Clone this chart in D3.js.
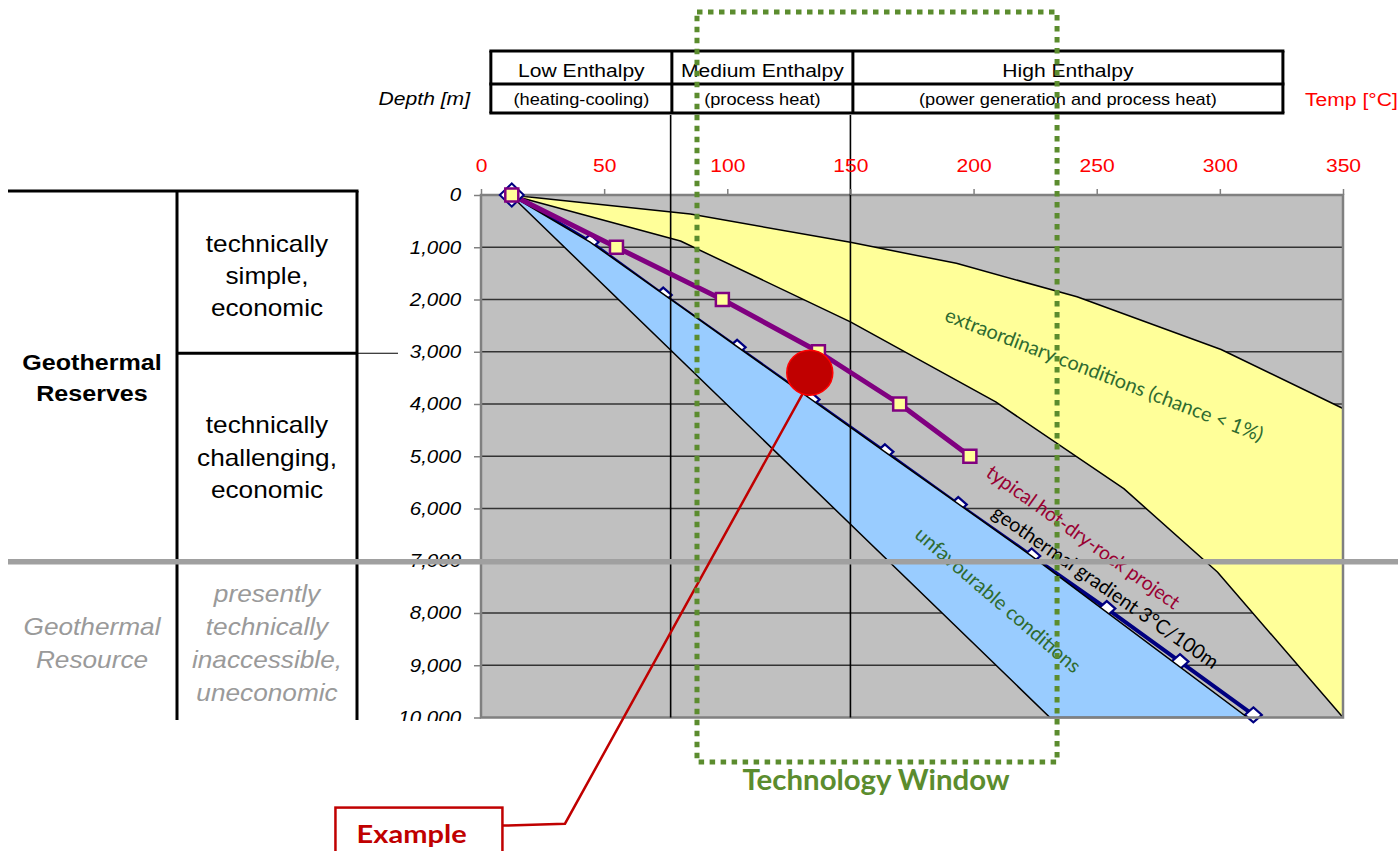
<!DOCTYPE html>
<html><head><meta charset="utf-8">
<script src="https://cdn.jsdelivr.net/npm/d3@7"></script>
<style>body{margin:0;background:#fff;} svg{display:block;}</style>
</head><body>
<svg id="chart" width="1400" height="851"></svg>
<script>
// ---------------- data ----------------
const tempTicks  = [0, 50, 100, 150, 200, 250, 300, 350];
const depthTicks = [0, 1000, 2000, 3000, 4000, 5000, 6000, 7000, 8000, 9000, 10000];

// geothermal gradient 3°C/100m (navy line with diamond markers)
const gradientTemp  = [12.5, 44.3, 74, 104, 134, 164, 193.8, 223.6, 254.1, 283.8, 313.6];
const gradientDepth = [0, 900, 1915, 2915, 3915, 4915, 5925, 6910, 7915, 8930, 9950];

// typical hot-dry-rock project (purple line, yellow squares)
const hdrTemp  = [12.5, 55, 98, 137, 170, 198.5];
const hdrDepth = [0, 1000, 2000, 3000, 4000, 5000];

// extraordinary conditions band (yellow)
const extraUpperTemp  = [12, 85, 150, 193, 242, 300.5, 350];
const extraUpperDepth = [0, 365, 906, 1308, 1948, 2956, 4086];
const extraLowerTemp  = [12, 81, 150, 209, 261, 299, 350];
const extraLowerDepth = [0, 880, 2427, 3960, 5620, 7216, 10000];

// unfavourable conditions band (blue)
const unfavUpperTemp  = [12, 44.3, 164, 223.6, 311.2];
const unfavUpperDepth = [0, 900, 4915, 6910, 10000];
const unfavLowerTemp  = [12, 231];
const unfavLowerDepth = [0, 10000];

// example project
const exampleTemp = 133.5, exampleDepth = 3400;

// enthalpy classes table
const enthalpyClasses = ["Low Enthalpy", "Medium Enthalpy", "High Enthalpy"];
const enthalpyUses    = ["(heating-cooling)", "(process heat)", "(power generation and process heat)"];
const enthalpyBounds  = [4, 77.5, 151, 325.6];
const enthalpyLines   = [77, 150];

// reserves table
const reserveRows = [3000, 7000];

// ---------------- setup ----------------
const svg = d3.select("#chart");
const x = d3.scaleLinear().domain([0, 350]).range([481, 1343]);
const y = d3.scaleLinear().domain([0, 10000]).range([195, 717.5]);
const SX = 1.14;
const ARIAL = "'Liberation Sans', Arial, sans-serif";
const CAL = "Lato, 'Open Sans', sans-serif";

function label(g, px, py, s, o = {}) {
  return g.append("text")
    .attr("transform", `translate(${px},${py}) scale(${SX},1)`)
    .attr("text-anchor", o.anchor || "middle")
    .attr("font-family", o.family || ARIAL)
    .attr("font-size", o.size || 18)
    .attr("font-weight", o.weight || "normal")
    .attr("font-style", o.style || "normal")
    .attr("fill", o.fill || "#000")
    .text(s);
}

// ---------------- header table ----------------
const hdr = svg.append("g");
const rowY = [51, 84, 113];
const colX = enthalpyBounds.map(x);
hdr.selectAll("line.hr").data(rowY).join("line").attr("class", "hr")
  .attr("x1", colX[0] - 1.5).attr("x2", colX[3] + 1.5).attr("y1", d => d).attr("y2", d => d)
  .attr("stroke", "#000").attr("stroke-width", 3);
hdr.selectAll("line.vr").data(colX).join("line").attr("class", "vr")
  .attr("x1", d => d).attr("x2", d => d).attr("y1", rowY[0]).attr("y2", rowY[2])
  .attr("stroke", "#000").attr("stroke-width", 3);
enthalpyClasses.forEach((c, i) => {
  const cx = (colX[i] + colX[i + 1]) / 2;
  label(hdr, cx, 76.5, c, { size: 18.5 });
  label(hdr, cx, 105, enthalpyUses[i], { size: 16 });
});
label(hdr, 470, 105, "Depth [m]", { anchor: "end", style: "italic", size: 18.5 });
label(hdr, 1305, 106, "Temp [°C]", { anchor: "start", size: 18.5, fill: "#FF0000" });

// ---------------- left table ----------------
const lt = svg.append("g");
const yRow1 = y(reserveRows[0]) + 1.5;
lt.append("line").attr("x1", 8).attr("x2", 358.5).attr("y1", 191).attr("y2", 191).attr("stroke", "#000").attr("stroke-width", 3);
[177, 357].forEach(v => lt.append("line").attr("x1", v).attr("x2", v).attr("y1", 191).attr("y2", 720).attr("stroke", "#000").attr("stroke-width", 3));
lt.append("line").attr("x1", 177).attr("x2", 357).attr("y1", yRow1).attr("y2", yRow1).attr("stroke", "#000").attr("stroke-width", 3);
lt.append("line").attr("x1", 357).attr("x2", 398).attr("y1", yRow1).attr("y2", yRow1).attr("stroke", "#000").attr("stroke-width", 1.2);

label(lt, 92, 370, "Geothermal", { size: 22, weight: "bold" });
label(lt, 92, 401, "Reserves", { size: 22, weight: "bold" });
[["technically", 251.5], ["simple,", 283.5], ["economic", 315.5]].forEach(([t, b]) => label(lt, 267, b, t, { size: 23 }));
[["technically", 433], ["challenging,", 465.5], ["economic", 498]].forEach(([t, b]) => label(lt, 267, b, t, { size: 23 }));
label(lt, 92, 635, "Geothermal", { size: 23, style: "italic", fill: "#9A9A9A" });
label(lt, 92, 668, "Resource", { size: 23, style: "italic", fill: "#9A9A9A" });
[["presently", 602], ["technically", 635], ["inaccessible,", 668], ["uneconomic", 701]].forEach(([t, b]) =>
  label(lt, 267, b, t, { size: 23, style: "italic", fill: "#9A9A9A" }));

// ---------------- plot ----------------
const plot = svg.append("g");
plot.append("rect").attr("x", x(0)).attr("y", y(0)).attr("width", x(350) - x(0)).attr("height", y(10000) - y(0)).attr("fill", "#C0C0C0");
plot.selectAll("line.grid").data(depthTicks.slice(1, -1)).join("line").attr("class", "grid")
  .attr("x1", x(0)).attr("x2", x(350)).attr("y1", d => y(d)).attr("y2", d => y(d))
  .attr("stroke", "#333").attr("stroke-width", 1.3);

// gradient line + diamonds (drawn under blue area)
const gradIdx = d3.range(gradientTemp.length);
plot.append("path").attr("d", d3.line().x(i => x(gradientTemp[i])).y(i => y(gradientDepth[i]))(gradIdx))
  .attr("fill", "none").attr("stroke", "#000080").attr("stroke-width", 4);
const diamond = (w, h) => `M0,${-h / 2}L${w / 2},0L0,${h / 2}L${-w / 2},0Z`;
plot.selectAll("path.dia").data(gradIdx.slice(1)).join("path").attr("class", "dia")
  .attr("d", diamond(17, 15))
  .attr("transform", i => `translate(${x(gradientTemp[i])},${y(gradientDepth[i])})`)
  .attr("fill", "#fff").attr("stroke", "#000080").attr("stroke-width", 2.2);

// yellow band
const yellowPts = extraUpperTemp.map((t, i) => [x(t), y(extraUpperDepth[i])])
  .concat(extraLowerTemp.map((t, i) => [x(t), y(extraLowerDepth[i])]).reverse());
plot.append("path").attr("d", d3.line()(yellowPts) + "Z")
  .attr("fill", "#FFFF99").attr("stroke", "#000").attr("stroke-width", 1.5).attr("stroke-linejoin", "round");

// blue band
const bluePts = unfavUpperTemp.map((t, i) => [x(t), y(unfavUpperDepth[i])])
  .concat(unfavLowerTemp.map((t, i) => [x(t), y(unfavLowerDepth[i])]).reverse());
plot.append("path").attr("d", d3.line()(bluePts) + "Z")
  .attr("fill", "#99CCFF").attr("stroke", "#000").attr("stroke-width", 1.5);

// plot border
plot.append("rect").attr("x", x(0)).attr("y", y(0)).attr("width", x(350) - x(0)).attr("height", y(10000) - y(0))
  .attr("fill", "none").attr("stroke", "#808080").attr("stroke-width", 2.5);

// enthalpy vertical lines
plot.selectAll("line.en").data(enthalpyLines).join("line").attr("class", "en")
  .attr("x1", d => x(d)).attr("x2", d => x(d)).attr("y1", 115).attr("y2", y(10000))
  .attr("stroke", "#000").attr("stroke-width", 1.6);

// purple HDR line
const hdrIdx = d3.range(hdrTemp.length);
plot.append("path").attr("d", d3.line().x(i => x(hdrTemp[i])).y(i => y(hdrDepth[i]))(hdrIdx))
  .attr("fill", "none").attr("stroke", "#800080").attr("stroke-width", 5).attr("stroke-linejoin", "round");
// origin diamond
plot.append("path").attr("d", diamond(24, 23))
  .attr("transform", `translate(${x(gradientTemp[0])},${y(gradientDepth[0])})`)
  .attr("fill", "#fff").attr("stroke", "#000080").attr("stroke-width", 2);
plot.selectAll("rect.sq").data(hdrIdx).join("rect").attr("class", "sq")
  .attr("x", i => x(hdrTemp[i]) - 6.5).attr("y", i => y(hdrDepth[i]) - 6.5)
  .attr("width", 13).attr("height", 13)
  .attr("fill", "#FFFF99").attr("stroke", "#800080").attr("stroke-width", 2.5);

// ---------------- axes ----------------
const xAxis = svg.append("g").attr("transform", `translate(0,${y(0)})`)
  .call(d3.axisTop(x).tickValues(tempTicks).tickSize(6).tickSizeOuter(0).tickPadding(17));
xAxis.select(".domain").remove();
xAxis.selectAll(".tick line").attr("stroke", "#808080").attr("stroke-width", 1.5);
xAxis.selectAll(".tick text").attr("transform", `scale(${SX},1)`)
  .attr("font-family", ARIAL).attr("font-size", 18.5).attr("fill", "#FF0000");

svg.append("clipPath").attr("id", "yclip").append("rect").attr("x", -600).attr("y", -10).attr("width", 700).attr("height", 731);
const yAxis = svg.append("g").attr("transform", `translate(${x(0)},0)`).attr("clip-path", "url(#yclip)")
  .call(d3.axisLeft(y).tickValues(depthTicks).tickFormat(d3.format(",")).tickSize(7).tickSizeOuter(0).tickPadding(10.5));
yAxis.select(".domain").remove();
yAxis.selectAll(".tick line").attr("stroke", "#808080").attr("stroke-width", 1.5);
yAxis.selectAll(".tick text").attr("transform", `scale(${SX},1)`)
  .attr("font-family", ARIAL).attr("font-size", 18).attr("font-style", "italic").attr("fill", "#000");

// ---------------- rotated labels ----------------
function rotLabel(px, py, ang, len, s, fill) {
  svg.append("text")
    .attr("transform", `translate(${px},${py}) rotate(${ang})`)
    .attr("dy", "0.27em")
    .attr("font-family", CAL).attr("font-size", 20).attr("fill", fill)
    .attr("textLength", len).attr("lengthAdjust", "spacingAndGlyphs")
    .text(s);
}
rotLabel(945.5, 315.5, 21.0, 339, "extraordinary conditions (chance < 1%)", "#2E6B30");
rotLabel(988, 471, 35.5, 232, "typical hot-dry-rock project", "#990033");
rotLabel(993.5, 511.5, 34.7, 270, "geothermal gradient 3°C/100m", "#000");
rotLabel(917, 532.5, 40.7, 211, "unfavourable conditions", "#2E6B30");

// ---------------- 7,000 m separator ----------------
const ySep = y(reserveRows[1]) + 1;
svg.append("line").attr("x1", 8).attr("x2", 1398).attr("y1", ySep).attr("y2", ySep)
  .attr("stroke", "#A0A0A0").attr("stroke-width", 5.5);

// ---------------- example ----------------
const ex = svg.append("g");
const connector = [[131.8, 3700], [34.1, 12033], [8.7, 12069]];
ex.append("path").attr("d", d3.line().x(d => x(d[0])).y(d => y(d[1]))(connector))
  .attr("fill", "none").attr("stroke", "#C00000").attr("stroke-width", 2.5);
ex.append("ellipse").attr("cx", x(exampleTemp)).attr("cy", y(exampleDepth)).attr("rx", 23).attr("ry", 22.5)
  .attr("fill", "#C00000").attr("stroke", "#FF0000").attr("stroke-width", 1.5);
const exBox = { t0: -59.1, t1: 8.7, d0: 11724, d1: 12800 };
ex.append("rect").attr("x", x(exBox.t0)).attr("y", y(exBox.d0))
  .attr("width", x(exBox.t1) - x(exBox.t0)).attr("height", y(exBox.d1) - y(exBox.d0))
  .attr("fill", "#fff").attr("stroke", "#C00000").attr("stroke-width", 2.5);
ex.append("text").attr("x", x(-50.5)).attr("y", y(12402))
  .attr("font-family", CAL).attr("font-weight", "bold").attr("font-size", 24).attr("fill", "#C00000")
  .attr("textLength", 110).attr("lengthAdjust", "spacingAndGlyphs").text("Example");

// ---------------- technology window ----------------
const tw = { t0: 87.7, t1: 233.9, d0: -3502, d1: 10852 };
svg.append("rect").attr("x", x(tw.t0)).attr("y", y(tw.d0))
  .attr("width", x(tw.t1) - x(tw.t0)).attr("height", y(tw.d1) - y(tw.d0))
  .attr("fill", "none").attr("stroke", "#5B8C2E").attr("stroke-width", 5).attr("stroke-dasharray", "5.5,5.5");
svg.append("text").attr("x", x(160.4)).attr("y", y(11388)).attr("text-anchor", "middle")
  .attr("font-family", CAL).attr("font-weight", "bold").attr("font-size", 28).attr("fill", "#5B8C2E")
  .attr("textLength", 267).attr("lengthAdjust", "spacingAndGlyphs").text("Technology Window");
</script>
</body></html>
